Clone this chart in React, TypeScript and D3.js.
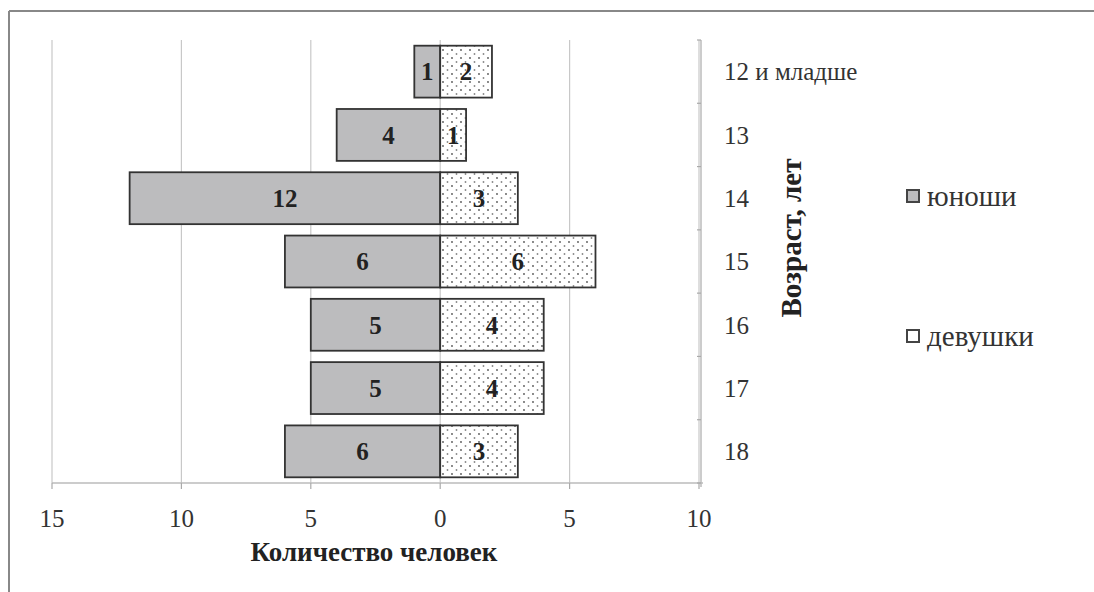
import React from "react";
import * as d3 from "d3";

const categories = ["12 и младше", "13", "14", "15", "16", "17", "18"];
const boys = [1, 4, 12, 6, 5, 5, 6];
const girls = [2, 1, 3, 6, 4, 4, 3];
const xTickValues = [-15, -10, -5, 0, 5, 10];
const seriesNames = ["юноши", "девушки"];

const W = 1094;
const H = 592;
const FONT = "'Liberation Serif', 'Times New Roman', serif";

export default function App() {
  const x = d3.scaleLinear().domain([-15, 10]).range([52, 699]);
  const y = d3
    .scaleBand<string>()
    .domain(categories)
    .range([40, 483])
    .paddingInner(0.18)
    .paddingOuter(0.09);
  const axisY = 483;
  const rightX = x(10);
  const boundaries = d3.range(categories.length + 1).map((i) => 40 + i * y.step());

  return (
    <svg
      width={W}
      height={H}
      style={{ position: "absolute", left: 0, top: 0, background: "#fff" }}
    >
      <defs>
        <pattern id="dots" width="9" height="8" patternUnits="userSpaceOnUse">
          <rect width="9" height="8" fill="#ffffff" />
          <circle cx="2" cy="2" r="0.9" fill="#555" />
          <circle cx="6.5" cy="6" r="0.9" fill="#888" />
        </pattern>
      </defs>
      {/* outer frame */}
      <line x1={9} y1={11} x2={W} y2={11} stroke="#888" strokeWidth={2} />
      <line x1={9} y1={11} x2={9} y2={H} stroke="#888" strokeWidth={2} />

      {/* gridlines */}
      {xTickValues.map((t) => (
        <line
          key={"g" + t}
          x1={x(t)}
          x2={x(t)}
          y1={40}
          y2={axisY}
          stroke="#c8c8c8"
          strokeWidth={1.2}
        />
      ))}

      {/* bars */}
      {categories.map((c, i) => {
        const y0 = y(c)!;
        const bh = y.bandwidth();
        return (
          <g key={c}>
            <rect
              x={x(-boys[i])}
              y={y0}
              width={x(0) - x(-boys[i])}
              height={bh}
              fill="#bcbcbe"
              stroke="#333"
              strokeWidth={1.8}
            />
            <rect
              x={x(0)}
              y={y0}
              width={x(girls[i]) - x(0)}
              height={bh}
              fill="url(#dots)"
              stroke="#333"
              strokeWidth={1.8}
            />
            <text
              x={(x(-boys[i]) + x(0)) / 2}
              y={y0 + bh / 2}
              dy="0.35em"
              textAnchor="middle"
              fontFamily={FONT}
              fontWeight="bold"
              fontSize={25}
              fill="#222"
            >
              {boys[i]}
            </text>
            <text
              x={(x(girls[i]) + x(0)) / 2}
              y={y0 + bh / 2}
              dy="0.35em"
              textAnchor="middle"
              fontFamily={FONT}
              fontWeight="bold"
              fontSize={25}
              fill="#222"
            >
              {girls[i]}
            </text>
          </g>
        );
      })}

      {/* x axis */}
      <line x1={x(-15)} x2={rightX + 4} y1={axisY} y2={axisY} stroke="#bbb" strokeWidth={1.5} />
      {xTickValues.map((t) => (
        <g key={"t" + t}>
          <line x1={x(t)} x2={x(t)} y1={axisY} y2={axisY + 6} stroke="#aaa" strokeWidth={1.2} />
          <text
            x={x(t)}
            y={518}
            dy="0.35em"
            textAnchor="middle"
            fontFamily={FONT}
            fontSize={25}
            fill="#333"
          >
            {Math.abs(t)}
          </text>
        </g>
      ))}
      <text
        x={374}
        y={552}
        dy="0.35em"
        textAnchor="middle"
        fontFamily={FONT}
        fontWeight="bold"
        fontSize={27}
        fill="#222"
      >
        Количество человек
      </text>

      {/* right category axis */}
      <line x1={rightX + 2} x2={rightX + 2} y1={40} y2={axisY + 4} stroke="#bbb" strokeWidth={1.5} />
      {boundaries.map((b, i) => (
        <line key={"b" + i} x1={rightX - 2} x2={rightX + 2} y1={b} y2={b} stroke="#aaa" strokeWidth={1.2} />
      ))}
      {categories.map((c) => (
        <text
          key={"l" + c}
          x={724}
          y={y(c)! + y.bandwidth() / 2}
          dy="0.35em"
          textAnchor="start"
          fontFamily={FONT}
          fontSize={25}
          fill="#333"
        >
          {c}
        </text>
      ))}
      <text
        transform="translate(791,238) rotate(-90)"
        dy="0.35em"
        textAnchor="middle"
        fontFamily={FONT}
        fontWeight="bold"
        fontSize={29}
        fill="#222"
      >
        Возраст, лет
      </text>

      {/* legend */}
      {seriesNames.map((s, i) => {
        const ly = i === 0 ? 196 : 336;
        return (
          <g key={s}>
            <rect
              x={907}
              y={ly - 6}
              width={12}
              height={12}
              fill={i === 0 ? "#bcbcbe" : "#fff"}
              stroke="#444"
              strokeWidth={2}
            />
            <text
              x={927}
              y={ly}
              dy="0.35em"
              fontFamily={FONT}
              fontSize={29}
              fill="#333"
            >
              {s}
            </text>
          </g>
        );
      })}
    </svg>
  );
}
